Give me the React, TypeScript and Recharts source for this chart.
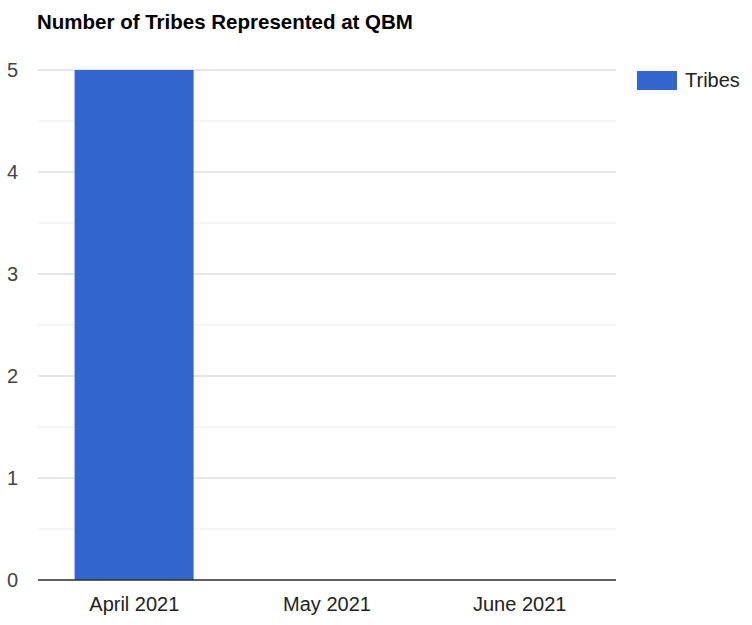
import { Bar, BarChart, CartesianGrid, XAxis, YAxis } from "recharts";

const months = ["April 2021", "May 2021", "June 2021"];
const tribes = [5, 0, 0];
const yTicks = [0, 1, 2, 3, 4, 5];
const minorTicks = [0.5, 1.5, 2.5, 3.5, 4.5];

const FONT = "'Liberation Sans', Arial, sans-serif";
const BLUE = "#3366cc";

const data = months.map((m, i) => ({ month: m, Tribes: tribes[i] }));

export default function App() {
  return (
    <div style={{ position: "absolute", left: 0, top: 0, width: 752, height: 625, background: "#fff" }}>
      <div
        style={{
          position: "absolute",
          left: 37,
          top: 12,
          fontFamily: FONT,
          fontWeight: "bold",
          fontSize: 20.5,
          lineHeight: 1,
          color: "#000",
        }}
      >
        Number of Tribes Represented at QBM
      </div>
      <div
        style={{
          position: "absolute",
          left: 637,
          top: 69,
          display: "flex",
          alignItems: "center",
          fontFamily: FONT,
          fontSize: 20,
          color: "#222",
          zIndex: 2,
        }}
      >
        <span style={{ display: "inline-block", width: 40, height: 19, background: BLUE, marginRight: 8 }} />
        <span>Tribes</span>
      </div>
      <BarChart
        width={752}
        height={625}
        data={data}
        margin={{ top: 70, right: 136, bottom: 0, left: 0 }}
        barCategoryGap="19%"
      >
        <CartesianGrid vertical={false} stroke="#ebebeb" horizontalValues={minorTicks} />
        <CartesianGrid vertical={false} stroke="#cccccc" />
        <XAxis
          dataKey="month"
          height={45}
          tickLine={false}
          axisLine={{ stroke: "#333", strokeWidth: 1.5 }}
          tick={{ fill: "#222", fontSize: 20, fontFamily: FONT }}
          tickMargin={11}
        />
        <YAxis
          width={38}
          domain={[0, 5]}
          ticks={yTicks}
          axisLine={false}
          tickLine={false}
          tickSize={0}
          tickMargin={20}
          tick={{ fill: "#444", fontSize: 20, fontFamily: FONT }}
        />
        <Bar dataKey="Tribes" fill={BLUE} isAnimationActive={false} />
      </BarChart>
    </div>
  );
}
